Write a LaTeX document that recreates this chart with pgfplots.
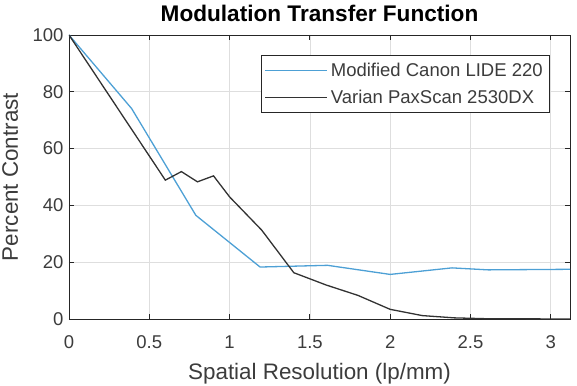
\documentclass[border=0pt]{standalone}
\usepackage{fontspec}
\setmainfont{Liberation Sans}
\usepackage{pgfplots}
\pgfplotsset{compat=1.18}
\usetikzlibrary{calc}

\definecolor{mtfblue}{RGB}{77,160,213}
\definecolor{mtfdark}{RGB}{50,50,50}
\definecolor{axgray}{RGB}{38,38,38}
\definecolor{txtgray}{RGB}{60,60,60}

\begin{document}
\begin{tikzpicture}
\begin{axis}[
  width=501bp, height=284bp, scale only axis,
  xmin=0, xmax=3.12, ymin=0, ymax=100,
  xtick={0,0.5,1,1.5,2,2.5,3},
  ytick={0,20,40,60,80,100},
  grid=major,
  major grid style={draw=black!13, line width=0.6bp},
  axis line style={draw=axgray, line width=0.8bp},
  tick style={draw=axgray, line width=0.8bp},
  tick align=inside, major tick length=5bp,
  /pgf/number format/assume math mode=true,
  tick label style={font=\fontsize{18.5bp}{20bp}\selectfont, text=txtgray},
  xticklabel style={anchor=base, yshift=-29bp},
  yticklabel style={xshift=-2bp},
  xlabel={Spatial Resolution (lp/mm)},
  ylabel={Percent Contrast},
  label style={font=\fontsize{22.4bp}{24bp}\selectfont, text=txtgray},
  xlabel style={at={(axis description cs:0.5,0)}, anchor=base, yshift=-60bp},
  ylabel style={at={(axis description cs:0,0.5)}, anchor=base, yshift=51bp},
  title={Modulation Transfer Function},
  title style={font=\fontsize{22.6bp}{24bp}\selectfont\bfseries, text=black,
    at={(axis description cs:0.5,1)}, anchor=base, yshift=8bp},
  legend style={at={(1,1)}, anchor=north east, xshift=-20bp, yshift=-20bp,
    draw=axgray, line width=0.6bp, fill=white,
    font=\fontsize{18.5bp}{20bp}\selectfont, text=txtgray,
    inner xsep=4bp, inner ysep=5.5bp, row sep=8bp,
    nodes={inner xsep=3bp, inner ysep=2bp}},
  legend cell align=left,
  legend image code/.code={\draw[#1, line width=0.9bp] (0bp,0bp) -- (62bp,0bp);},
]
\addplot[color=mtfblue, line width=1.3bp] coordinates {
  (0,100) (0.39,74.1) (0.79,36.5) (1.19,18.3) (1.61,18.9)
  (2.0,15.7) (2.385,18.0) (2.61,17.3) (3.12,17.5)
};
\addlegendentry{Modified Canon LIDE 220}
\addplot[color=mtfdark, line width=1.3bp] coordinates {
  (0,100) (0.6,48.9) (0.7,51.9) (0.8,48.3) (0.9,50.4) (1.0,43.0)
  (1.2,31.3) (1.4,16.3) (1.6,12.0) (1.8,8.3) (2.0,3.4) (2.2,1.2)
  (2.4,0.4) (2.6,0.1) (3.12,0)
};
\addlegendentry{Varian PaxScan 2530DX}
\end{axis}
\pgfresetboundingbox
\path ($(current axis.south west)+(-69bp,-67bp)$) rectangle ($(current axis.north east)+(7bp,35bp)$);
\end{tikzpicture}
\end{document}
